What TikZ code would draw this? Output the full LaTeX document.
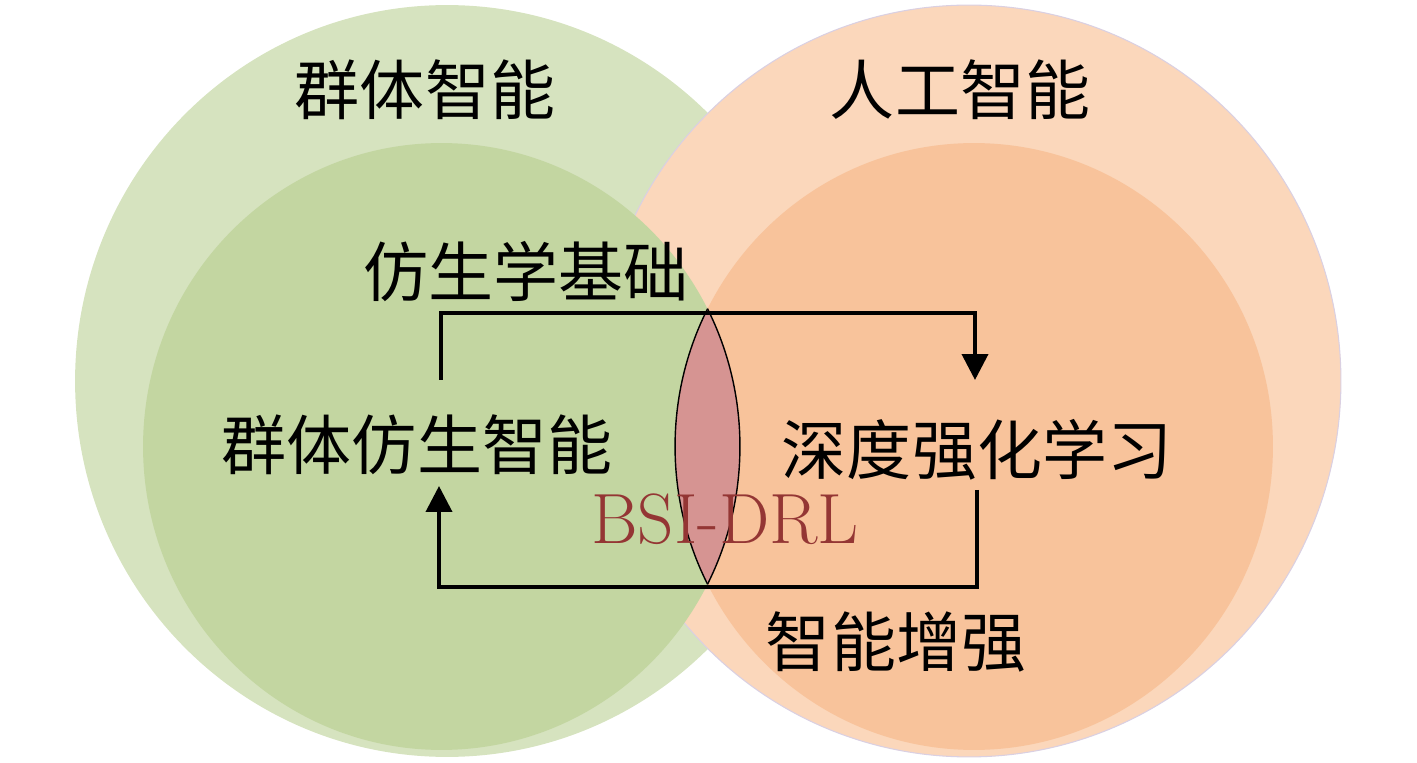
\documentclass[tikz,border=0pt]{standalone}
\usepackage{fontspec}
\newfontfamily\cjk{Noto Sans CJK SC}
\usepackage{tikz}
\usetikzlibrary{arrows.meta}
\definecolor{greenout}{RGB}{214,227,191}
\definecolor{greenin}{RGB}{195,214,161}
\definecolor{orangeout}{RGB}{251,215,187}
\definecolor{orangein}{RGB}{248,195,155}
\definecolor{lensred}{RGB}{214,148,146}
\definecolor{drlred}{RGB}{148,54,52}
\definecolor{rimgrey}{RGB}{218,208,226}

\begin{document}
\begin{tikzpicture}[x=0.02cm,y=-0.02cm,
    cn/.style={font=\cjk\fontsize{37}{40}\selectfont,inner sep=0pt},
    flow/.style={line width=2.2pt,-{Triangle[length=0.52cm,width=0.52cm]}}]
    \useasboundingbox (0,0) rectangle (1417,763);
    \fill[greenout] (447,381) ellipse [x radius=7.44cm, y radius=7.52cm];
    \fill[orangeout,draw=rimgrey,line width=0.6pt] (969,381) ellipse [x radius=7.44cm, y radius=7.52cm];
    \fill[greenin] (441.5,446.5) ellipse [x radius=5.97cm, y radius=6.07cm];
    \fill[orangein] (974,446.5) ellipse [x radius=5.98cm, y radius=6.07cm];
    % lens
    \begin{scope}
      \clip (441.5,446.5) ellipse [x radius=5.97cm, y radius=6.07cm];
      \fill[lensred,draw=black,line width=0.8pt] (974,446.5) ellipse [x radius=5.98cm, y radius=6.07cm];
    \end{scope}
    \begin{scope}
      \clip (974,446.5) ellipse [x radius=5.98cm, y radius=6.07cm];
      \draw[black,line width=0.8pt] (441.5,446.5) ellipse [x radius=5.97cm, y radius=6.07cm];
    \end{scope}
    \node[cn] (sw) at (425,90) {群体智能};
    \node[cn] (ai) at (960,90) {人工智能};
    \node[cn] (bio) at (526,272) {仿生学基础};
    \node[cn] (bsi) at (417,445) {群体仿生智能};
    \node[cn] (drl) at (977,450) {深度强化学习};
    \node[cn] (enh) at (896,642) {智能增强};
    \node[text=drlred,font=\fontsize{40.5}{42}\selectfont,inner sep=0pt,anchor=base] (lab) at (725,543) {BSI-DRL};
    \coordinate (ts) at (441,380);
    \coordinate (ta) at (441,313);
    \coordinate (te) at (975,380);
    \coordinate (bs) at (977,490);
    \coordinate (ba) at (977,587);
    \coordinate (be) at (439,486);
    \draw[flow] (ts) -- (ta) -| (te);
    \draw[flow] (bs) -- (ba) -| (be);
\end{tikzpicture}
\end{document}
